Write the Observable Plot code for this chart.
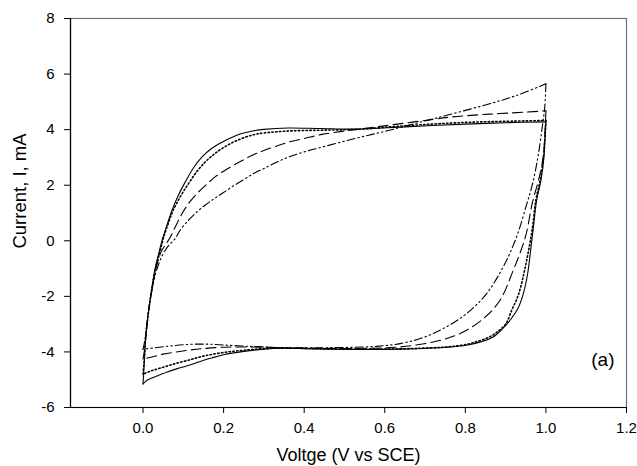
<!DOCTYPE html>
<html><head><meta charset="utf-8">
<script src="https://cdn.jsdelivr.net/npm/d3@7"></script>
<script src="https://cdn.jsdelivr.net/npm/@observablehq/plot@0.6"></script>
<style>body{margin:0;background:#fff}</style>
</head><body><div id="chart"></div>
<script>
const xTicks = [0, 0.2, 0.4, 0.6, 0.8, 1.0, 1.2];
const yTicks = [-6, -4, -2, 0, 2, 4, 6, 8];
const xDomain = [-0.18, 1.2];
const yDomain = [-6, 8];
const xLabel = "Voltge (V vs SCE)";
const yLabel = "Current, I, mA";
const panelLabel = "(a)";

// Series 1 (solid): forward scan then reverse scan
const s1V = [0,0.003,0.006,0.01,0.015,0.021,0.03,0.04,0.048,0.058,0.072,0.088,0.105,0.125,0.146,0.17,0.196,0.22,0.245,0.275,0.3,0.36,0.44,0.53,0.65,0.8,0.9,1.0,
  0.998,0.995,0.988,0.977,0.969,0.962,0.955,0.944,0.93,0.911,0.89,0.869,0.84,0.803,0.754,0.72,0.638,0.54,0.465,0.4,0.35,0.3,0.25,0.2,0.17,0.14,0.11,0.085,0.06,0.038,0.02,0.01,0];
const s1I = [-5.15,-4.4,-3.6,-3.0,-2.4,-1.8,-1.0,-0.4,0.05,0.5,1.1,1.65,2.12,2.62,3.01,3.32,3.55,3.72,3.86,3.96,4.01,4.06,4.04,4.02,4.1,4.2,4.25,4.28,
  3.8,3.0,2.2,1.46,0.5,-0.34,-1.15,-1.9,-2.45,-2.86,-3.2,-3.46,-3.63,-3.76,-3.83,-3.86,-3.9,-3.91,-3.9,-3.88,-3.87,-3.9,-3.98,-4.1,-4.22,-4.35,-4.5,-4.6,-4.72,-4.85,-4.95,-5.02,-5.15];

// Series 2 (dotted)
const s2V = [0,0.003,0.006,0.01,0.015,0.021,0.031,0.042,0.05,0.062,0.075,0.093,0.113,0.133,0.154,0.175,0.196,0.22,0.245,0.278,0.3,0.36,0.44,0.53,0.65,0.8,0.9,1.0,
  0.998,0.994,0.986,0.975,0.966,0.957,0.945,0.931,0.915,0.9,0.88,0.86,0.83,0.803,0.754,0.7,0.638,0.54,0.45,0.35,0.3,0.25,0.2,0.15,0.112,0.08,0.05,0.025,0.013,0];
const s2I = [-4.8,-4.3,-3.6,-3.0,-2.4,-1.8,-1.0,-0.4,0.07,0.6,1.1,1.6,2.06,2.48,2.83,3.1,3.32,3.52,3.68,3.83,3.88,3.95,3.98,4.01,4.14,4.26,4.3,4.33,
  3.8,3.0,2.2,1.46,0.4,-0.34,-1.2,-1.97,-2.5,-3.0,-3.27,-3.46,-3.62,-3.73,-3.82,-3.86,-3.89,-3.9,-3.89,-3.86,-3.88,-3.94,-4.02,-4.15,-4.3,-4.42,-4.55,-4.66,-4.72,-4.8];

// Series 3 (dashed)
const s3V = [0,0.003,0.006,0.01,0.015,0.022,0.032,0.045,0.06,0.068,0.08,0.097,0.115,0.138,0.16,0.179,0.204,0.23,0.254,0.278,0.3,0.33,0.361,0.4,0.444,0.49,0.526,0.58,0.626,0.7,0.762,0.83,0.886,0.95,1.0,
  0.998,0.993,0.982,0.966,0.952,0.938,0.919,0.886,0.845,0.787,0.72,0.638,0.55,0.45,0.35,0.3,0.25,0.2,0.15,0.112,0.05,0.017,0];
const s3I = [-4.25,-4.0,-3.6,-3.0,-2.4,-1.8,-1.0,-0.4,-0.05,0.14,0.5,0.98,1.38,1.76,2.06,2.3,2.54,2.76,2.95,3.12,3.25,3.4,3.55,3.68,3.83,3.93,4.0,4.1,4.19,4.33,4.45,4.53,4.58,4.63,4.68,
  4.0,3.0,2.2,1.35,0.3,-0.35,-1.06,-2.14,-2.8,-3.34,-3.64,-3.82,-3.87,-3.87,-3.85,-3.83,-3.82,-3.83,-3.88,-3.94,-4.08,-4.2,-4.25];

// Series 4 (dash-dot-dot)
const s4V = [0,0.003,0.007,0.011,0.016,0.023,0.033,0.047,0.062,0.08,0.092,0.113,0.133,0.154,0.175,0.196,0.225,0.254,0.278,0.3,0.33,0.361,0.4,0.444,0.526,0.609,0.72,0.845,0.927,1.0,
  0.997,0.99,0.98,0.966,0.952,0.931,0.912,0.894,0.853,0.803,0.745,0.688,0.638,0.58,0.5,0.4,0.35,0.3,0.25,0.2,0.16,0.112,0.06,0.013,0];
const s4I = [-3.9,-3.7,-3.3,-2.8,-2.3,-1.7,-1.1,-0.55,-0.2,0.08,0.38,0.74,1.03,1.28,1.5,1.7,1.98,2.24,2.45,2.6,2.82,3.01,3.2,3.37,3.68,3.97,4.39,4.87,5.23,5.65,
  4.8,4.0,3.0,2.0,1.3,0.3,-0.4,-0.94,-1.9,-2.62,-3.16,-3.52,-3.7,-3.8,-3.84,-3.85,-3.85,-3.82,-3.79,-3.75,-3.72,-3.73,-3.8,-3.88,-3.9];

const seriesList = [
  {name: "s1", v: s1V, i: s1I, dash: null, width: 1.1},
  {name: "s2", v: s2V, i: s2I, dash: "1.4,2.4", width: 1.6},
  {name: "s3", v: s3V, i: s3I, dash: "10,5", width: 1.1},
  {name: "s4", v: s4V, i: s4I, dash: "8,3,1.5,3,1.5,3", width: 1.1}
];

// each loop is drawn as two scan branches (forward to the vertex, then reverse)
const lineMarks = seriesList.flatMap(s => {
  const rows = s.v.map((x, k) => ({v: x, i: s.i[k]}));
  const peak = s.v.indexOf(d3.max(s.v));
  const opts = {x: "v", y: "i", stroke: "black", strokeWidth: s.width,
    strokeDasharray: s.dash ?? undefined, curve: "catmull-rom"};
  return [Plot.line(rows.slice(0, peak + 1), opts), Plot.line(rows.slice(peak), opts)];
});

const chart = Plot.plot({
  width: 637, height: 466,
  marginLeft: 70, marginRight: 11, marginTop: 18, marginBottom: 59,
  style: {fontFamily: "'Liberation Sans', Arial, sans-serif", background: "white", color: "black"},
  x: {domain: xDomain, label: null},
  y: {domain: yDomain, label: null},
  marks: [
    Plot.frame({stroke: "#707070", strokeWidth: 1.2}),
    Plot.ruleX([xDomain[0]], {stroke: "black", strokeWidth: 1.2}),
    Plot.ruleY([yDomain[0]], {stroke: "black", strokeWidth: 1.2}),
    Plot.axisX(xTicks, {tickSize: 6, tickPadding: 9, fontSize: 15, tickFormat: d3.format(".1f"), label: null}),
    Plot.axisY(yTicks, {tickSize: 6, tickPadding: 10, fontSize: 15, tickFormat: d => `${d}`, label: null}),
    ...lineMarks,
    Plot.text([xLabel], {frameAnchor: "bottom", textAnchor: "middle", dy: 48, lineAnchor: "middle", fontSize: 18, fill: "black"}),
    Plot.text([yLabel], {frameAnchor: "left", textAnchor: "middle", rotate: -90, dx: -50, dy: -22, lineAnchor: "middle", fontSize: 18.5, fill: "black"}),
    Plot.text([panelLabel], {frameAnchor: "bottom-right", textAnchor: "end", dx: -12, dy: -48, lineAnchor: "middle", fontSize: 19, fill: "black"})
  ]
});
document.getElementById("chart").appendChild(chart);
</script>
</body></html>
